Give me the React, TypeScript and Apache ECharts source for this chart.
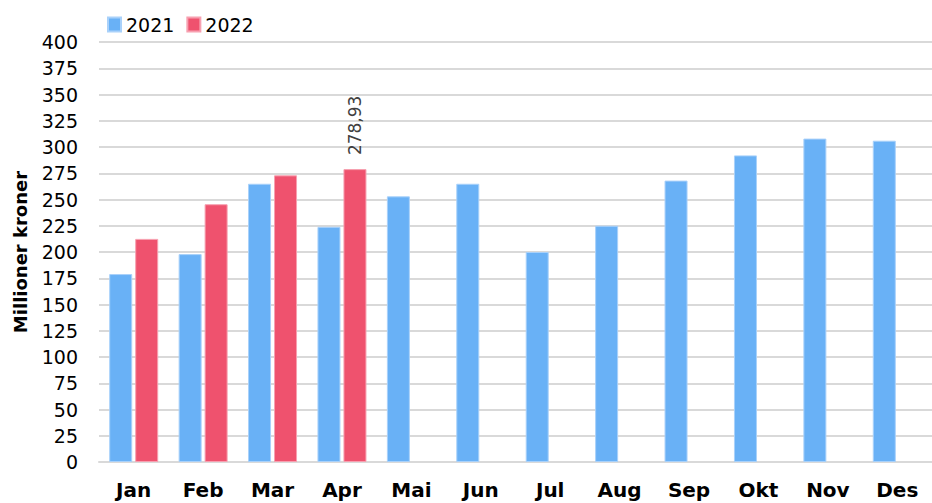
import React, { useEffect, useRef } from "react";
import * as echarts from "echarts";

const months = ["Jan", "Feb", "Mar", "Apr", "Mai", "Jun", "Jul", "Aug", "Sep", "Okt", "Nov", "Des"];
const values2021 = [179, 198, 265, 224, 253, 265, 200, 225, 268, 292, 308, 306];
const values2022: (number | null)[] = [212.5, 245.5, 273, 278.93, null, null, null, null, null, null, null, null];
const labelledIndex2022 = 3;
const yTicks = { min: 0, max: 400, interval: 25 };

export default function App() {
  const ref = useRef<HTMLDivElement>(null);
  useEffect(() => {
    if (!ref.current) return;
    const chart = echarts.init(ref.current, null, { renderer: "svg" });
    const font = "DejaVu Sans";
    chart.setOption({
      animation: false,
      textStyle: { fontFamily: font },
      legend: {
        left: 102,
        top: 10,
        itemWidth: 13,
        itemHeight: 14,
        itemGap: 12,
        icon: "rect",
        textStyle: { fontSize: 19, color: "#000", fontFamily: font },
        data: ["2021", "2022"],
      },
      grid: { left: 99, right: -5, top: 42, bottom: 41, containLabel: false },
      xAxis: {
        type: "category",
        data: months,
        axisLine: { lineStyle: { color: "#d9d9d9", width: 2 } },
        axisTick: { show: false },
        axisLabel: { fontSize: 20, fontWeight: "bold", color: "#000", margin: 18, fontFamily: font },
      },
      yAxis: {
        type: "value",
        min: yTicks.min,
        max: yTicks.max,
        interval: yTicks.interval,
        name: "Millioner kroner",
        nameLocation: "middle",
        nameGap: 70,
        nameTextStyle: { fontSize: 18, fontWeight: "bold", color: "#000", fontFamily: font },
        axisLine: { show: false },
        axisTick: { show: false },
        splitLine: { lineStyle: { color: "#d9d9d9", width: 2 } },
        axisLabel: { fontSize: 19, color: "#000", margin: 21, fontFamily: font },
      },
      series: [
        {
          name: "2021",
          type: "bar",
          data: values2021,
          barWidth: 23,
          barGap: "13%",
          itemStyle: { color: "#69b1f6", borderColor: "#a9d1fa", borderWidth: 1 },
        },
        {
          name: "2022",
          type: "bar",
          data: values2022.map((v, i) =>
            i === labelledIndex2022
              ? {
                  value: v,
                  label: {
                    show: true,
                    position: "top",
                    rotate: 90,
                    align: "left",
                    verticalAlign: "middle",
                    distance: 14,
                    fontSize: 17,
                    color: "#404040",
                    fontFamily: font,
                    formatter: (p: any) => Number(p.value).toFixed(2).replace(".", ","),
                  },
                }
              : v
          ),
          barWidth: 23,
          itemStyle: { color: "#ef526e", borderColor: "#f7a0b0", borderWidth: 1 },
        },
      ],
    });
    return () => chart.dispose();
  }, []);
  return <div ref={ref} style={{ width: 932, height: 503, position: "absolute", left: 0, top: 0 }} />;
}
